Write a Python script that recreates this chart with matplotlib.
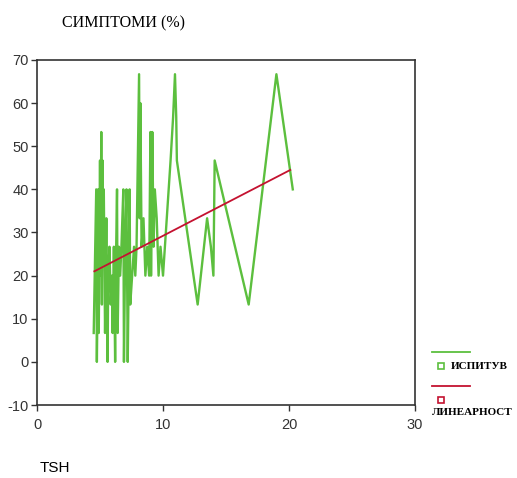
import numpy as np
import matplotlib
matplotlib.use("Agg")
import matplotlib.pyplot as plt
from matplotlib.lines import Line2D

plt.rcParams["axes.unicode_minus"] = False

# TSH vs symptoms (%), points sorted by TSH as in the original chart
tsh = [4.5, 4.7, 4.75, 4.8, 4.85, 4.9, 5.0, 5.05, 5.1, 5.15, 5.2, 5.25,
       5.3, 5.4, 5.5, 5.6, 5.65, 5.75, 5.85, 5.95, 6.0, 6.1, 6.2, 6.25,
       6.35, 6.4, 6.5, 6.6, 6.7, 6.85, 6.9, 7.0, 7.1, 7.2, 7.25, 7.35,
       7.4, 7.55, 7.7, 7.8, 7.9, 8.1, 8.15, 8.2, 8.3, 8.45, 8.6, 8.75,
       8.9, 9.0, 9.05, 9.15, 9.25, 9.35, 9.5, 9.65, 9.8, 10.0, 10.6, 10.8,
       10.95, 11.05, 11.1, 12.75, 13.5, 13.8, 14.0, 14.1, 16.8, 19.0, 20.3]
symptoms = [6.7, 40, 0, 13.3, 40, 6.7, 46.7, 20, 53.3, 13.3, 46.7, 26.7,
            40, 6.7, 33.3, 0, 20, 26.7, 13.3, 20, 6.7, 26.7, 0, 20,
            40, 6.7, 26.7, 20, 26.7, 40, 0, 26.7, 40, 0, 13.3, 40,
            13.3, 20, 26.7, 20, 26.7, 66.7, 33.3, 60, 26.7, 33.3, 20, 26.7,
            20, 53.3, 20, 53.3, 26.7, 40, 33.3, 20, 26.7, 20, 46.7, 56.7,
            66.7, 56.7, 46.7, 13.3, 33.3, 26.7, 20, 46.7, 13.3, 66.7, 40]

# fitted linear trend, end points
fit_tsh = [4.55, 20.1]
fit_symptoms = [21.0, 44.5]

x_ticks = [0, 10, 20, 30]
y_ticks = [-10, 0, 10, 20, 30, 40, 50, 60, 70]

green = "#5cbf3e"
red = "#c41230"

fig = plt.figure(figsize=(5.17, 4.78), dpi=100)
ax = fig.add_axes([0.0716, 0.1527, 0.7311, 0.7218])

ax.plot(tsh, symptoms, color=green, lw=1.7)
ax.plot(fit_tsh, fit_symptoms, color=red, lw=1.3)

ax.set_xlim(0, 30)
ax.set_ylim(-10, 70)
ax.set_xticks(x_ticks)
ax.set_yticks(y_ticks)
ax.tick_params(direction="out", length=4, width=1, labelsize=10.5,
               colors="#333333")
ax.tick_params(axis="x", pad=5)
ax.tick_params(axis="y", pad=2)
for lab in ax.get_xticklabels() + ax.get_yticklabels():
    lab.set_fontfamily("Liberation Sans")
for s in ax.spines.values():
    s.set_color("#333333")
    s.set_linewidth(1.2)

fig.text(0.12, 0.952, "СИМПТОМИ (%)", family="Liberation Serif",
         fontsize=11.5, va="center", ha="left")
fig.text(0.077, 0.02, "TSH", family="Liberation Sans", fontsize=11,
         va="center", ha="left")

# legend drawn by hand at the right side
fig.add_artist(Line2D([0.836, 0.909], [0.264, 0.264], color=green, lw=1.3,
                      transform=fig.transFigure))
fig.add_artist(Line2D([0.853], [0.234], marker="s", ms=4.5, mfc="white",
                      mec=green, mew=1.2, transform=fig.transFigure))
fig.text(0.872, 0.234, "ИСПИТУВ", family="Liberation Serif", fontsize=8,
         weight="bold", va="center", ha="left")
fig.add_artist(Line2D([0.836, 0.909], [0.193, 0.193], color=red, lw=1.3,
                      transform=fig.transFigure))
fig.add_artist(Line2D([0.853], [0.163], marker="s", ms=4.5, mfc="white",
                      mec=red, mew=1.2, transform=fig.transFigure))
fig.text(0.836, 0.136, "ЛИНЕАРНОСТ", family="Liberation Serif", fontsize=8,
         weight="bold", va="center", ha="left")

fig.savefig("out.png", dpi=100)
